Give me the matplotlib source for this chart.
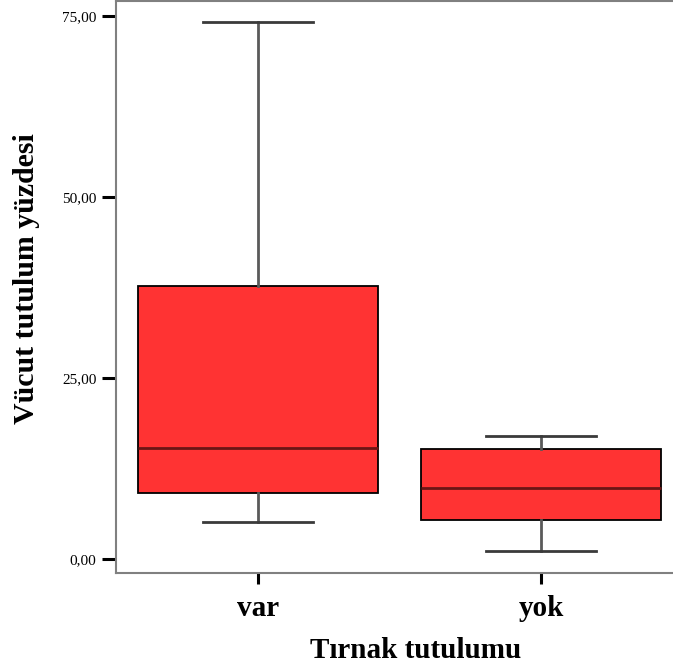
import matplotlib
matplotlib.use("Agg")
import matplotlib.pyplot as plt

categories = ["var", "yok"]
whisker_low = [5.15, 1.15]
q1 = [9.07, 5.39]
medians = [15.4, 9.85]
q3 = [37.7, 15.15]
whisker_high = [74.2, 17.0]
yticks = [0, 25, 50, 75]
ytick_labels = ["0,00", "25,00", "50,00", "75,00"]

plt.rcParams['font.family'] = ['Liberation Serif', 'DejaVu Serif']

fig = plt.figure(figsize=(6.73, 6.67), dpi=100)
W, H = 673, 667
left, right, top, bottom = 116, 673, 1, 573
ax = fig.add_axes([left / W, 1 - bottom / H, (right - left) / W, (bottom - top) / H])

stats = []
for i, c in enumerate(categories):
    stats.append(dict(label=c, whislo=whisker_low[i], q1=q1[i], med=medians[i],
                      q3=q3[i], whishi=whisker_high[i], fliers=[]))

ax.bxp(stats, positions=[0, 1], widths=0.85, capwidths=0.39, patch_artist=True,
       showfliers=False,
       boxprops=dict(facecolor='#ff3333', edgecolor='black', linewidth=1.3),
       medianprops=dict(color='#6b1515', linewidth=2),
       whiskerprops=dict(color='#5a5a5a', linewidth=2),
       capprops=dict(color='#3a3a3a', linewidth=2))

ax.set_xlim(-0.502, -0.502 + (right - left) / 283)
ax.set_ylim(-1.93, 77.07)
ax.set_yticks(yticks)
ax.set_yticklabels(ytick_labels, fontsize=11)
ax.set_xticks([0, 1])
ax.set_xticklabels(categories, fontsize=21, fontweight='bold')

for s in ['left', 'bottom', 'top']:
    ax.spines[s].set_color('#808080')
    ax.spines[s].set_linewidth(1.5)
ax.spines['right'].set_visible(False)
ax.tick_params(axis='y', length=10, width=2.2, color='black', pad=4)
ax.tick_params(axis='x', length=8, width=2.2, color='black', pad=8)

ax.set_ylabel("Vücut tutulum yüzdesi", fontsize=21.5, fontweight='bold', va='center')
ax.set_xlabel("Tırnak tutulumu", fontsize=21, fontweight='bold', va='center')
ax.yaxis.set_label_coords(-(116 - 27) / (right - left), (573 - 279) / (bottom - top))
ax.xaxis.set_label_coords((416 - left) / (right - left), -(651 - 573) / (bottom - top))

fig.savefig("out.png", dpi=100)
